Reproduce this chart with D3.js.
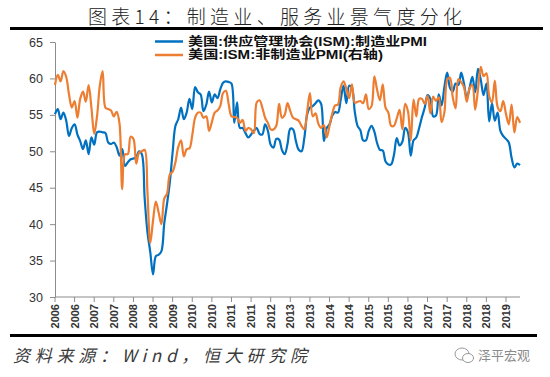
<!DOCTYPE html>
<meta charset="utf-8">
<style>
  body { margin: 0; background: #fff; }
  svg { display: block; }
  .title { font-family: "Noto Sans CJK SC"; font-weight: 300; font-size: 19px; fill: #222; }
  .legend { font-family: "Liberation Sans", "Noto Sans CJK SC"; font-weight: 700; font-size: 12px; fill: #111; }
  .axis text { font-family: Arial, "Liberation Sans", sans-serif; fill: #333; }
  .axis path, .axis line { stroke: #8c8c8c; }
  .src { font-family: "Noto Sans CJK SC"; font-style: italic; font-size: 17px; fill: #3a3a3a; }
  .mark { font-family: "Noto Sans CJK SC"; font-size: 13px; fill: #8a8a8a; }
</style>
<body>
</body>
<script src="https://cdn.jsdelivr.net/npm/d3@7"></script>
<script>
  const w = 550, h = 377;
  const plot = {l: 55, r: 520, t: 42, b: 297};

  // monthly series, Jan 2006 .. Nov 2019
  const mfgPMI = [
    55.1, 55.8, 54.4, 55.3, 54.2, 52.1, 53.2, 53.7, 52.3, 51.4, 50.3, 51.5,
    49.6, 51.9, 50.9, 52.6, 52.7, 52.6, 52.5, 51.2, 51.0, 51.2, 50.6, 49.4,
    50.3, 48.0, 48.5, 48.9, 49.0, 49.2, 50.0, 49.6, 43.6, 38.9, 36.2, 33.1,
    35.6, 35.8, 36.3, 40.1, 42.8, 45.8, 49.9, 53.5, 54.4, 56.0, 54.4, 55.3,
    57.2, 55.8, 58.8, 58.1, 57.8, 55.5, 56.4, 58.2, 56.7, 57.8, 57.3, 58.5,
    59.4, 59.6, 59.5, 59.3, 53.9, 56.7, 53.2, 53.2, 52.5, 51.9, 52.3, 52.8,
    53.2, 52.4, 52.3, 53.7, 52.8, 50.9, 50.5, 51.7, 51.6, 50.2, 49.6, 51.0,
    53.1, 53.0, 51.4, 50.2, 50.0, 51.8, 55.0, 56.0, 56.2, 56.6, 57.0, 56.5,
    51.4, 53.2, 53.7, 54.9, 55.4, 55.3, 57.1, 59.0, 56.6, 59.0, 58.7, 55.5,
    53.5, 52.9, 51.5, 51.5, 52.8, 53.5, 52.7, 51.1, 50.2, 50.1, 48.6, 48.2,
    48.2, 49.5, 51.8, 50.8, 51.3, 53.2, 52.6, 49.4, 51.5, 51.9, 53.2, 54.7,
    56.0, 57.7, 57.2, 54.8, 54.9, 57.8, 56.3, 58.8, 60.8, 58.7, 58.2, 59.3,
    59.1, 60.8, 59.3, 57.3, 58.7, 60.2, 58.1, 61.3, 59.8, 57.7, 59.3, 54.1,
    56.6, 54.2, 55.3, 52.8, 52.1, 51.7, 51.2, 49.1, 47.8, 48.3, 48.1
  ];
  const nonMfgPMI = [
    59.1, 60.5, 59.6, 61.0, 60.2, 57.8, 56.0, 56.9, 54.6, 57.2, 58.2, 56.8,
    59.1, 56.0, 52.4, 54.8, 59.0, 61.0, 56.0, 55.8, 55.6, 54.8, 55.4, 53.9,
    44.8, 49.6, 49.6, 52.0, 51.7, 48.3, 49.8, 50.0, 50.2, 44.4, 37.4, 40.5,
    43.1, 41.6, 40.0, 43.5, 44.2, 46.8, 47.2, 48.5, 50.6, 51.5, 49.3, 50.3,
    50.4, 52.2, 54.6, 55.3, 55.3, 54.6, 54.8, 52.8, 54.0, 55.3, 55.6, 56.2,
    58.0, 58.3, 56.5, 54.8, 54.7, 54.6, 53.9, 54.3, 52.8, 53.2, 53.0, 52.5,
    56.7, 57.0, 56.0, 54.6, 53.9, 53.0, 53.0, 53.5, 56.5, 54.6, 55.0, 56.6,
    55.5, 54.6, 54.4, 54.2, 53.5, 53.0, 55.4, 58.0, 54.8, 55.2, 53.8, 53.2,
    53.6, 51.9, 53.5, 55.2, 56.3, 56.4, 58.8, 59.6, 58.6, 57.3, 59.2, 56.7,
    56.8, 56.9, 56.6, 57.8, 55.8, 56.2, 60.3, 58.4, 57.0, 59.2, 56.0, 55.3,
    53.5, 53.5, 54.5, 55.7, 53.0, 56.5, 55.5, 51.5, 57.1, 54.8, 57.2, 57.2,
    56.5, 57.6, 55.2, 57.5, 56.9, 57.4, 54.0, 55.3, 59.8, 60.1, 57.4, 55.9,
    59.9, 59.5, 58.8, 56.8, 58.6, 59.1, 55.7, 58.5, 61.6, 60.3, 60.7, 57.6,
    56.7, 59.7, 56.1, 55.5, 56.9, 55.1, 53.7, 56.4, 52.6, 54.7, 53.9
  ];
  // category labels shown every 7 months
  const xTickLabels = ['2006', '2006', '2007', '2007', '2008', '2008', '2009', '2010',
    '2010', '2011', '2011', '2012', '2013', '2013', '2014', '2014', '2015', '2015',
    '2016', '2017', '2017', '2018', '2018', '2019'];
  const tickEvery = 7;
  const yTicks = [30, 35, 40, 45, 50, 55, 60, 65];
  const seriesNames = ['美国:供应管理协会(ISM):制造业PMI', '美国:ISM:非制造业PMI(右轴)'];
  const colors = ['#0070C0', '#ED7D31'];

  const svg = d3.select('body').append('svg').attr('width', w).attr('height', h);

  // title and rules
  svg.append('text').attr('class', 'title')
    .attr('x', 88).attr('y', 24)
    .attr('textLength', 374).attr('lengthAdjust', 'spacing')
    .text('图表14：制造业、服务业景气度分化');
  svg.append('rect').attr('x', 10).attr('y', 27).attr('width', 533).attr('height', 3).attr('fill', '#000');
  svg.append('rect').attr('x', 10).attr('y', 334).attr('width', 527).attr('height', 3).attr('fill', '#000');

  const x = d3.scaleLinear().domain([0, mfgPMI.length - 1]).range([plot.l, plot.r]);
  const y = d3.scaleLinear().domain([30, 65]).range([plot.b, plot.t]);

  // y axis
  svg.append('g').attr('class', 'axis')
    .attr('transform', `translate(${plot.l},0)`)
    .call(d3.axisLeft(y).tickValues(yTicks).tickSize(5).tickSizeOuter(0).tickPadding(7))
    .call(g => g.selectAll('text').style('font-size', '12.5px'));

  // x axis
  const tickIdx = xTickLabels.map((_, i) => i * tickEvery);
  const gx = svg.append('g').attr('class', 'axis')
    .attr('transform', `translate(0,${plot.b})`);
  gx.append('line').attr('x1', plot.l).attr('x2', plot.r).attr('y1', 0).attr('y2', 0).attr('stroke', '#8c8c8c');
  gx.selectAll('line.tick').data(tickIdx).join('line').attr('class', 'tick')
    .attr('x1', d => x(d)).attr('x2', d => x(d)).attr('y1', 0).attr('y2', 5);
  gx.selectAll('text').data(xTickLabels).join('text')
    .attr('transform', (d, i) => `translate(${x(tickIdx[i]) + 4},7) rotate(-90)`)
    .attr('text-anchor', 'end')
    .style('font-size', '11px').style('font-weight', 'bold')
    .text(d => d);

  // lines
  const line = d3.line().x((d, i) => x(i)).y(d => y(d)).curve(d3.curveCatmullRom.alpha(0.5));
  [mfgPMI, nonMfgPMI].forEach((s, k) => {
    svg.append('path').datum(s)
      .attr('fill', 'none').attr('stroke', colors[k]).attr('stroke-width', 2.2)
      .attr('stroke-linejoin', 'round')
      .attr('d', line);
  });

  // legend
  const lg = svg.append('g');
  seriesNames.forEach((name, k) => {
    const ly = 41.5 + k * 13.5;
    lg.append('line').attr('x1', 155).attr('x2', 183).attr('y1', ly).attr('y2', ly)
      .attr('stroke', colors[k]).attr('stroke-width', 2.5);
    lg.append('text').attr('class', 'legend')
      .attr('x', 188).attr('y', ly + 4)
      .attr('textLength', k === 0 ? 239 : 195).attr('lengthAdjust', 'spacingAndGlyphs')
      .text(name);
  });

  // source + watermark
  svg.append('text').attr('class', 'src').attr('x', 13).attr('y', 362)
    .attr('textLength', 294).attr('lengthAdjust', 'spacing')
    .text('资料来源：Wind，恒大研究院');
  const wm = svg.append('g').attr('transform', 'translate(462,355)');
  wm.append('ellipse').attr('cx', 0).attr('cy', -1).attr('rx', 7).attr('ry', 6)
    .attr('fill', 'none').attr('stroke', '#999').attr('stroke-width', 1);
  wm.append('ellipse').attr('cx', 6).attr('cy', 3).attr('rx', 5.5).attr('ry', 4.5)
    .attr('fill', '#fff').attr('stroke', '#999').attr('stroke-width', 1);
  wm.append('text').attr('class', 'mark').attr('x', 16).attr('y', 5).text('泽平宏观');
</script>
